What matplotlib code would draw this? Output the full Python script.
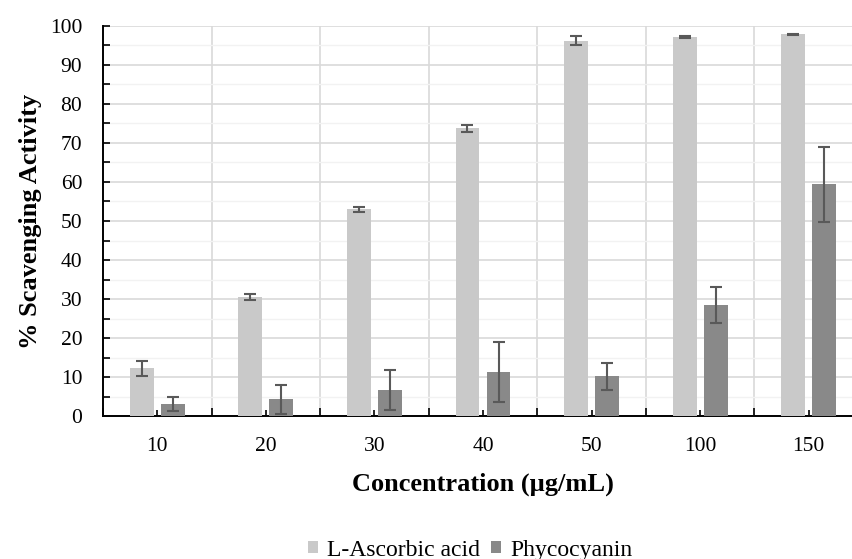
import numpy as np
import matplotlib
matplotlib.use("Agg")
import matplotlib.pyplot as plt
from matplotlib.ticker import MultipleLocator

concentrations = ["10", "20", "30", "40", "50", "100", "150"]
ascorbic = [12.2, 30.5, 53.0, 73.8, 96.2, 97.2, 97.9]
ascorbic_sd = [1.9, 0.8, 0.7, 0.9, 1.2, 0.2, 0.1]
phyco = [3.0, 4.3, 6.7, 11.3, 10.2, 28.5, 59.4]
phyco_sd = [1.8, 3.7, 5.1, 7.8, 3.5, 4.6, 9.7]

plt.rcParams["font.family"] = ["Liberation Serif", "DejaVu Serif"]

fig = plt.figure(figsize=(8.53, 5.59), dpi=100)
ax = fig.add_axes([0.1208, 0.2558, 0.8909, 0.6977])

x = np.arange(len(concentrations))
w = 0.22
off = 0.143
err_kw = dict(ecolor="#595959", elinewidth=1.5, capsize=4.3, capthick=1.5)
ax.bar(x - off, ascorbic, w, yerr=ascorbic_sd, color="#c9c9c9",
       label="L-Ascorbic acid", error_kw=err_kw, zorder=3)
ax.bar(x + off, phyco, w, yerr=phyco_sd, color="#898989",
       label="Phycocyanin", error_kw=err_kw, zorder=3)

ax.set_xlim(-0.5, len(concentrations) - 0.5)
ax.set_ylim(0, 100)
ax.yaxis.set_major_locator(MultipleLocator(10))
ax.yaxis.set_minor_locator(MultipleLocator(5))
ax.grid(which="major", axis="y", color="#d9d9d9", linewidth=1.2, zorder=0)
ax.grid(which="minor", axis="y", color="#f2f2f2", linewidth=1.0, zorder=0)

# category boundaries
ax.set_xticks(np.arange(len(concentrations) + 1) - 0.5, minor=True)
ax.grid(which="minor", axis="x", color="#d9d9d9", linewidth=1.2, zorder=0)
ax.set_xticks(x)
ax.set_xticklabels(concentrations)
ax.tick_params(axis="x", which="major", length=4, direction="in", width=1.2,
               labelsize=15.5, pad=15)
ax.tick_params(axis="x", which="minor", length=6, direction="in", width=1.2)
ax.tick_params(axis="y", which="both", length=5, direction="in", width=1.2,
               labelsize=15.5, pad=15)

for s in ["top", "right"]:
    ax.spines[s].set_visible(False)
for s in ["left", "bottom"]:
    ax.spines[s].set_linewidth(1.4)
    ax.spines[s].set_color("black")

ax.set_xlabel("Concentration (µg/mL)", fontsize=19, fontweight="bold", labelpad=12)
ax.set_ylabel("% Scavenging Activity", fontsize=19, fontweight="bold", labelpad=6)

fig.legend(loc="center", bbox_to_anchor=(0.551, 0.016), ncol=2, frameon=False,
           fontsize=17, handlelength=0.42, handleheight=0.42, handletextpad=0.37,
           columnspacing=0.5, borderpad=0)

fig.savefig("out.png", dpi=100)
